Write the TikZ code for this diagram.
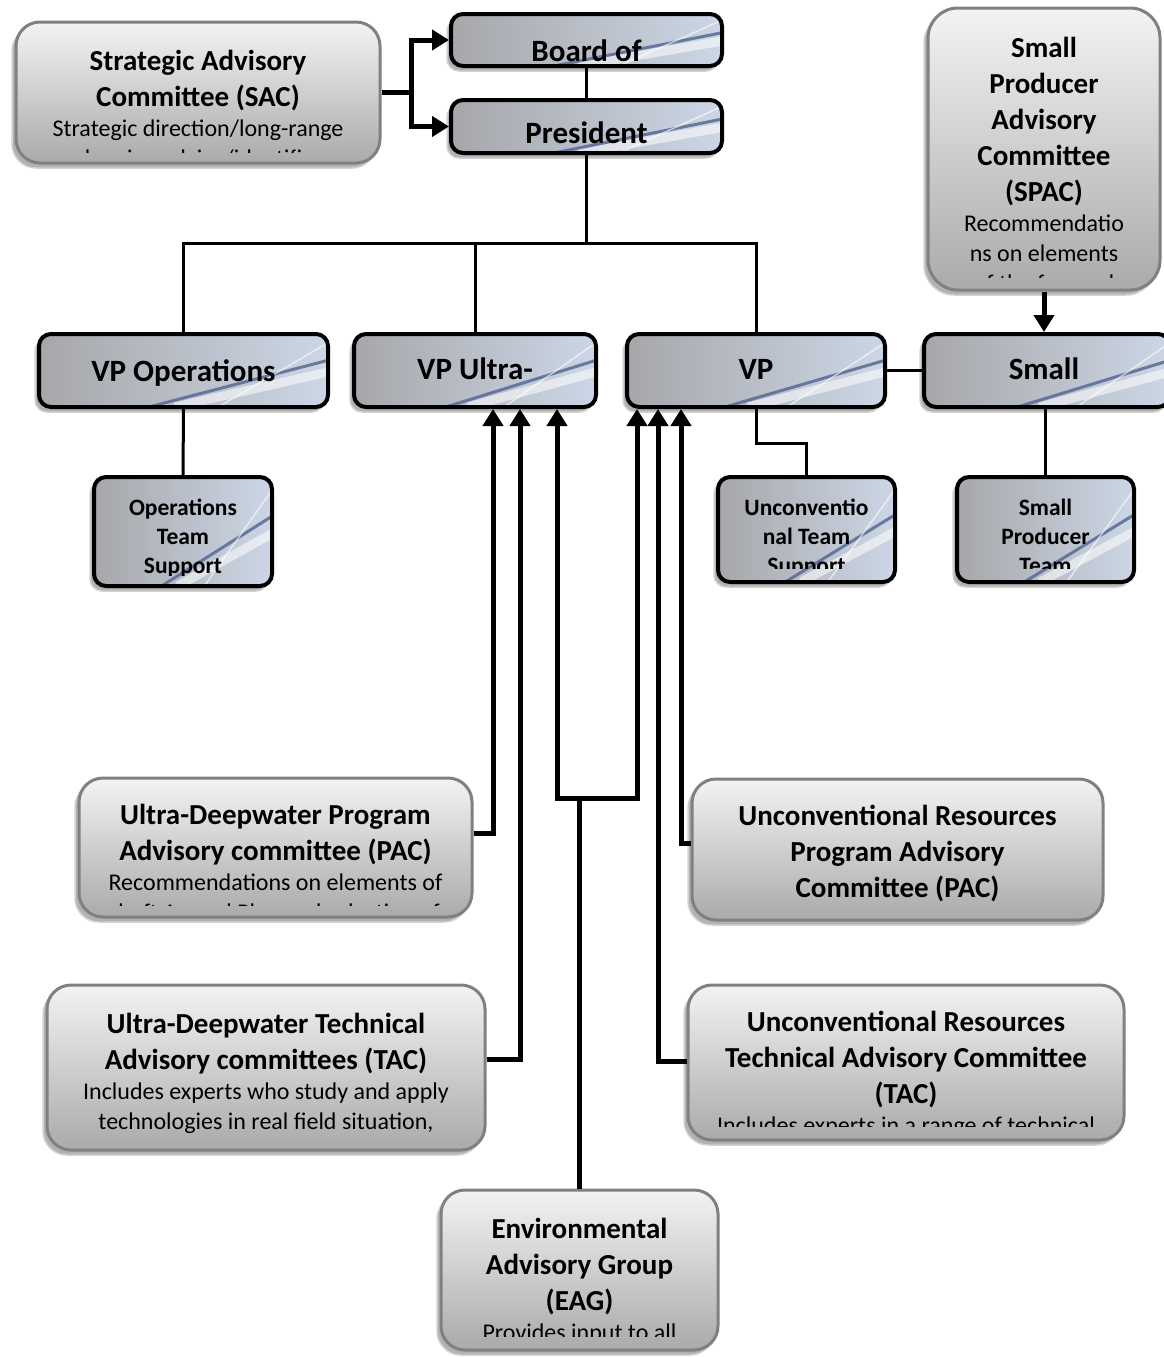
\documentclass[tikz,border=0pt]{standalone}
\usepackage{fontspec}
\setmainfont{Carlito}
\usepackage{xcolor}
\usetikzlibrary{arrows.meta,calc,shadows}

\definecolor{boxtop}{RGB}{243,243,243}
\definecolor{boxbot}{RGB}{170,170,170}
\definecolor{boxline}{RGB}{128,128,128}
\definecolor{steelA}{RGB}{166,167,170}
\definecolor{steelB}{RGB}{186,191,200}
\definecolor{steelD}{RGB}{86,106,148}
\definecolor{steelF}{RGB}{204,214,230}

\newcommand{\hdfont}{\fontsize{29}{36}\selectfont\bfseries}
\newcommand{\txfont}{\fontsize{24}{30}\selectfont\mdseries}
\newcommand{\smfont}{\fontsize{23.5}{29}\selectfont\bfseries}

\tikzset{
	graybox/.style={draw=boxline, line width=3pt, rounded corners=24pt,
		top color=boxtop, bottom color=boxbot,
		general shadow={shadow xshift=-4pt, shadow yshift=-5pt, fill=gray!60, draw=gray!35, line width=1.5pt}},
	bluebox/.style={draw=black, line width=4pt, rounded corners=12pt,
		left color=steelA, middle color=steelB, right color=steelF,
		general shadow={shadow xshift=-4pt, shadow yshift=-5pt, fill=gray!60, draw=gray!35, line width=1.5pt},
		path picture={
			\draw[white, line width=9pt, opacity=.55]
				($(path picture bounding box.south west)!0.47!(path picture bounding box.south east)$) --
				($(path picture bounding box.north east)!0.52!(path picture bounding box.south east)$);
			\draw[steelD, line width=3pt, opacity=.85]
				($(path picture bounding box.south west)!0.38!(path picture bounding box.south east)$) --
				($(path picture bounding box.north east)!0.36!(path picture bounding box.south east)$);
			\draw[white, line width=1.5pt, opacity=.6]
				($(path picture bounding box.south west)!0.62!(path picture bounding box.south east)$) --
				($(path picture bounding box.north east)!0.12!(path picture bounding box.south east)$);
		}},
	head/.style={font=\fontsize{31}{38}\selectfont\bfseries, inner sep=0pt, anchor=base},
	lbl/.style={align=flush center, inner sep=0pt, anchor=base},
	org/.style={line width=3pt},
	feed/.style={line width=5pt, -{Triangle[width=20pt,length=17pt]}},
}

\begin{document}
\begin{tikzpicture}[x=1pt,y=-1pt]
	\useasboundingbox (0,0) rectangle (1164,1357);
	
	% boards and officers
	\node[bluebox, minimum width=271pt, minimum height=52pt] (board) at (586.5,40) {};
	\node[bluebox, minimum width=271pt, minimum height=53pt] (pres)  at (586.5,126.5) {};
	\node[bluebox, minimum width=289pt, minimum height=73pt] (vpo) at (183.5,370.5) {};
	\node[bluebox, minimum width=242pt, minimum height=73pt] (vpu) at (475,370.5) {};
	\node[bluebox, minimum width=258pt, minimum height=73pt] (vpr) at (756,370.5) {};
	\node[bluebox, minimum width=246pt, minimum height=73pt] (sp)  at (1047,370.5) {};
	\node[bluebox, minimum width=178pt, minimum height=109pt] (ots) at (183,531.5) {};
	\node[bluebox, minimum width=177pt, minimum height=105pt] (uts) at (806.5,529.5) {};
	\node[bluebox, minimum width=177pt, minimum height=105pt] (spt) at (1045.5,529.5) {};
	
	% advisory bodies
	\node[graybox, minimum width=364pt, minimum height=141pt] (sac)   at (198,92.5) {};
	\node[graybox, minimum width=232pt, minimum height=282pt, rounded corners=30pt] (spac) at (1044,149) {};
	\node[graybox, minimum width=393pt, minimum height=139pt] (udpac) at (275.5,847.5) {};
	\node[graybox, minimum width=438pt, minimum height=165pt] (udtac) at (266,1067.5) {};
	\node[graybox, minimum width=411pt, minimum height=141pt] (urpac) at (897.5,849.5) {};
	\node[graybox, minimum width=436pt, minimum height=155pt] (urtac) at (906,1062.5) {};
	\node[graybox, minimum width=277pt, minimum height=160pt] (eag)   at (579.5,1270) {};
	
	% texts
	\node[head] (boardtext) at (586.5,61)  {Board of};
	\node[head] (prestext)  at (586.5,143) {President};
	\node[head] (vpotext)   at (183.5,381) {VP Operations};
	\node[head] (vputext)   at (475,379)   {VP Ultra-};
	\node[head] (vprtext)   at (756,379)   {VP};
	\node[head] (sptext)    at (1044,379)  {Small};
	\begin{scope}
		\clip (94,477) rectangle (272,575);
		\node[lbl, text width=170pt, font=\smfont] (otstext) at (183,515) {Operations\\Team\\Support\par};
	\end{scope}
	\begin{scope}
		\clip (718,477) rectangle (895,568);
		\node[lbl, text width=170pt, font=\smfont] (utstext) at (806.5,515) {Unconventio\\nal Team\\Support\par};
	\end{scope}
	\begin{scope}
		\clip (957,477) rectangle (1134,568);
		\node[lbl, text width=170pt, font=\smfont] (spttext) at (1045.5,515) {Small\\Producer\\Team\par};
	\end{scope}
	
	\begin{scope}
		\clip (16,22) rectangle (380,152);
		\node[lbl, text width=350pt] (sactext) at (198,70)
			{{\hdfont Strategic Advisory\\Committee (SAC)\par}\txfont Strategic direction/long-range\\planning advice/identifies\par};
	\end{scope}
	\begin{scope}
		\clip (928,8) rectangle (1160,277);
		\node[lbl, text width=225pt] (spactext) at (1044,57)
			{{\hdfont Small\\Producer\\Advisory\\Committee\\(SPAC)\par}\txfont Recommendatio\\ns on elements\\of the forward\par};
	\end{scope}
	\begin{scope}
		\clip (79,778) rectangle (472,905);
		\node[lbl, text width=385pt] (udpactext) at (275.5,824)
			{{\hdfont Ultra-Deepwater Program\\Advisory committee (PAC)\par}\txfont Recommendations on elements of\\draft Annual Plan and selection of\par};
	\end{scope}
	\node[lbl, text width=430pt] (udtactext) at (266,1033)
		{{\hdfont Ultra-Deepwater Technical\\Advisory committees (TAC)\par}\txfont Includes experts who study and apply\\technologies in real field situation,\par};
	\node[lbl, text width=400pt, font=\hdfont] (urpactext) at (897.5,825)
		{Unconventional Resources\\Program Advisory\\Committee (PAC)\par};
	\begin{scope}
		\clip (688,985) rectangle (1124,1126);
		\node[lbl, text width=428pt] (urtactext) at (906,1031)
			{{\hdfont Unconventional Resources\\Technical Advisory Committee\\(TAC)\par}\txfont Includes experts in a range of technical\par};
	\end{scope}
	\begin{scope}
		\clip (441,1190) rectangle (718,1336);
		\node[lbl, text width=270pt] (eagtext) at (579.5,1238)
			{{\hdfont Environmental\\Advisory Group\\(EAG)\par}\txfont Provides input to all\par};
	\end{scope}
	
	% reporting lines
	\coordinate (bus) at ($(pres.south)+(0,88)$);
	\draw[org] (board.south) -- (pres.north);
	\draw[org] (pres.south) -- (bus);
	\draw[org] (vpo.north) |- (bus) -| (vpr.north);
	\draw[org] (vpu.north) -- (vpu.north |- bus);
	\draw[org] (vpr.east) -- (sp.west);
	\draw[org] (vpo.south) -- (ots.north);
	\draw[org] (vpr.south) -- ++(0,34) -| (uts.north);
	\draw[org] (sp.south -| spt.north) -- (spt.north);
	
	% advice lines
	\draw[feed] (sac.east) -- ++(30,0) |- (board.west);
	\draw[feed] (sac.east) -- ++(30,0) |- (pres.west);
	\draw[feed] (spac.south) -- (spac.south |- sp.north);
	\draw[feed] ($(udpac.east)+(0,-14.5)$) -| ($(vpu.south)+(18,0)$);
	\draw[feed] ($(udtac.east)+(0,-8.5)$) -| ($(vpu.south)+(45,0)$);
	\coordinate (eagj) at ($(eag.north)+(0,-390)$); % split point
	\draw[feed] (eag.north) -- (eagj) -| ($(vpu.south)+(82,0)$);
	\draw[feed] (eagj) -| ($(vpr.south)+(-119,0)$);
	\draw[feed] ($(urtac.west)+(0,-1.5)$) -| ($(vpr.south)+(-98,0)$);
	\draw[feed] ($(urpac.west)+(0,-6.5)$) -| ($(vpr.south)+(-75,0)$);
	
\end{tikzpicture}
\end{document}
